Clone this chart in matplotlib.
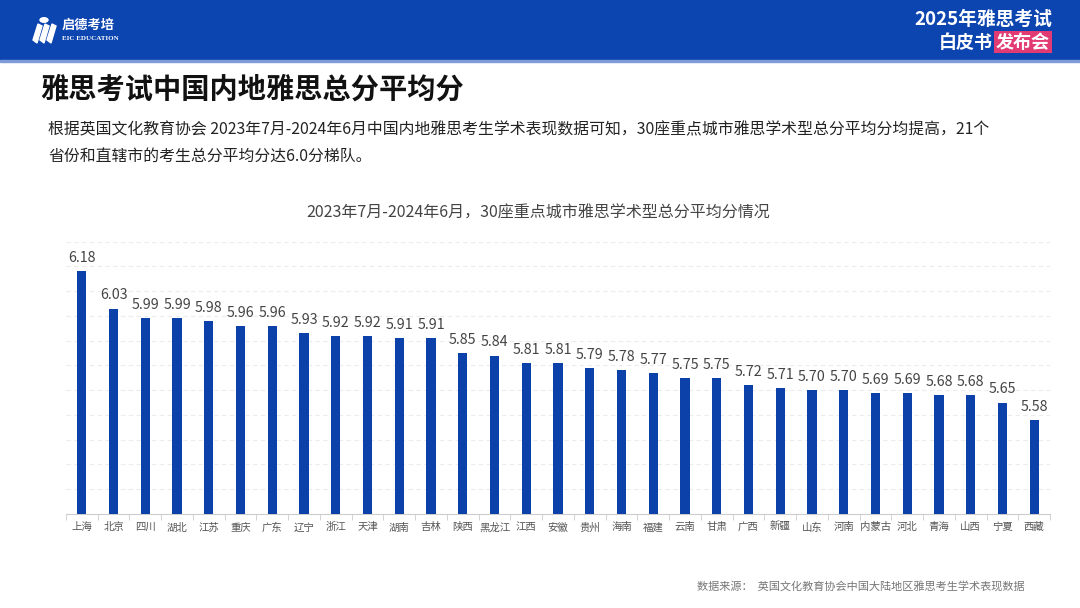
import matplotlib
matplotlib.use("Agg")
import matplotlib.pyplot as plt
from matplotlib.patches import Rectangle, Circle, Polygon

plt.rcParams['font.family'] = ['Noto Sans CJK SC', 'DejaVu Sans']

# data
provinces = ['上海', '北京', '四川', '湖北', '江苏', '重庆', '广东', '辽宁', '浙江', '天津',
             '湖南', '吉林', '陕西', '黑龙江', '江西', '安徽', '贵州', '海南', '福建', '云南',
             '甘肃', '广西', '新疆', '山东', '河南', '内蒙古', '河北', '青海', '山西', '宁夏', '西藏']
scores = [6.18, 6.03, 5.99, 5.99, 5.98, 5.96, 5.96, 5.93, 5.92, 5.92,
          5.91, 5.91, 5.85, 5.84, 5.81, 5.81, 5.79, 5.78, 5.77, 5.75,
          5.75, 5.72, 5.71, 5.70, 5.70, 5.69, 5.69, 5.68, 5.68, 5.65, 5.58]
y_min, y_max, y_step = 5.2, 6.3, 0.1

title = '雅思考试中国内地雅思总分平均分'
para1 = '根据英国文化教育协会 2023年7月-2024年6月中国内地雅思考生学术表现数据可知，30座重点城市雅思学术型总分平均分均提高，21个'
para2 = '省份和直辖市的考生总分平均分达6.0分梯队。'
chart_title = '2023年7月-2024年6月，30座重点城市雅思学术型总分平均分情况'
source = '数据来源：  英国文化教育协会中国大陆地区雅思考生学术表现数据'

BLUE = '#0b41a9'
HEAD = '#0c44b0'
PINK = '#e23a72'

W, H = 1080, 608
fig = plt.figure(figsize=(W / 100, H / 100), dpi=100)
fig.patch.set_facecolor('white')

def fx(px):
    return px / W

def fy(py):
    return 1 - py / H

# header band
fig.add_artist(Rectangle((0, fy(60)), 1, 60 / H, transform=fig.transFigure, color=HEAD, zorder=0))
fig.add_artist(Rectangle((0, fy(62)), 1, 2 / H, transform=fig.transFigure, color='#7f9bd9', zorder=0))

# rough logo mark
fig.add_artist(Circle((fx(44), fy(20)), 4 / W, transform=fig.transFigure, color='white'))
for dx in (0, 7, 14):
    fig.add_artist(Polygon([(fx(33 + dx), fy(40)), (fx(38 + dx), fy(24)), (fx(42 + dx), fy(26)),
                            (fx(37 + dx), fy(43))], closed=True, transform=fig.transFigure,
                           color='white'))
fig.text(fx(62), fy(25), '启德考培', color='white', fontsize=9.5, fontweight='bold', va='center')
fig.text(fx(62), fy(39), 'EIC EDUCATION', color='white', fontsize=5, family='Liberation Serif',
         fontweight='bold', va='center')

fig.text(fx(1052), fy(19), '2025年雅思考试', color='white', fontsize=13.5, fontweight='bold',
         ha='right', va='center')
fig.text(fx(1050), fy(42), '发布会', color='white', fontsize=13, fontweight='bold', ha='right',
         va='center', bbox=dict(boxstyle='square,pad=0.1', fc=PINK, ec='none'))
fig.text(fx(993), fy(42), '白皮书', color='white', fontsize=13, fontweight='bold', ha='right',
         va='center')

# title and paragraph
fig.text(fx(40), fy(90), title, fontsize=20.3, fontweight='bold', color='#111111', va='center')
fig.text(fx(48), fy(130), para1, fontsize=11.4, color='#222222', va='center')
fig.text(fx(48), fy(157), para2, fontsize=11.4, color='#222222', va='center')

fig.text(fx(538), fy(213), chart_title, fontsize=11.5, color='#444444', ha='center', va='center')
fig.text(fx(1025), fy(586), source, fontsize=8, color='#777777', ha='right', va='center',
         style='italic')

# chart
ax = fig.add_axes([fx(66), fy(514), fx(1050 - 66), (514 - 241.7) / H])
x = list(range(len(scores)))
ax.bar(x, [s - y_min for s in scores], bottom=y_min, width=0.29, color=BLUE, zorder=3)
for xi, s in zip(x, scores):
    ax.text(xi, s + 0.025, '%.2f' % s, ha='center', va='bottom', fontsize=10.3, color='#444444')

ax.set_xlim(-0.5, len(scores) - 0.5)
ax.set_ylim(y_min, y_max)
ticks = [round(y_min + y_step * i, 1) for i in range(1, 12)]
for t in ticks:
    ax.axhline(t, color='#ececec', lw=0.8, ls=(0, (4, 3)), zorder=1)
ax.set_yticks([])
ax.set_xticks(x)
ax.set_xticklabels(provinces, fontsize=7.5, color='#555555')
ax.set_xticks([i + 0.5 for i in range(-1, len(scores))], minor=True)
ax.tick_params(axis='x', which='major', length=0, pad=6)
ax.tick_params(axis='x', which='minor', length=4, color='#cccccc')
for side in ('top', 'right', 'left'):
    ax.spines[side].set_visible(False)
ax.spines['bottom'].set_color('#cccccc')
ax.set_facecolor('none')

fig.savefig('out.png', dpi=100)
